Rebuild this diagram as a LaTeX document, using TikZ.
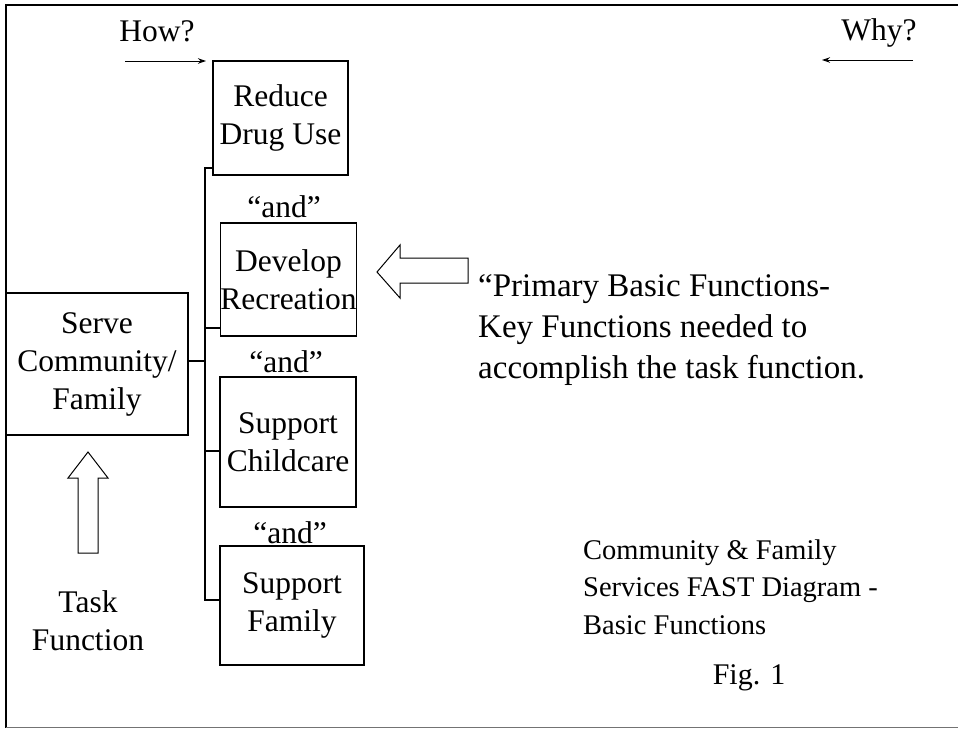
\documentclass[tikz,border=0pt]{standalone}
\usepackage{fontspec}
\setmainfont{Liberation Serif}
\usetikzlibrary{arrows.meta}
\begin{document}
\begin{tikzpicture}[x=1pt,y=-1pt,
  fnbox/.style={draw, line width=1.1pt, inner sep=0pt, align=center,
    font=\fontsize{31.5}{38}\selectfont},
  label/.style={inner sep=0pt, font=\fontsize{31.5}{38}\selectfont},
  note/.style={inner sep=0pt, align=left, anchor=west},
  bus/.style={line width=1.1pt},
  blockarrow/.style={draw, line width=1pt, fill=white, line join=miter},
  dirarrow/.style={line width=1pt, -{Stealth[length=8pt,width=5.5pt]}}]
\useasboundingbox (0,0) rectangle (958,728);

% frame
\draw[line width=2pt] (958,5) -- (6,5) -- (6,728);
\draw[line width=1pt, black!55] (6,727) -- (958,727);

% direction labels
\node[label, anchor=base] (how) at (157,41) {How?};
\node[label, anchor=base] (why) at (879,40) {Why?};
\coordinate (howA) at (125,61);
\coordinate (howB) at (206,61);
\coordinate (whyA) at (913,60);
\coordinate (whyB) at (822,60);
\draw[dirarrow] (howA) -- (howB);
\draw[dirarrow] (whyA) -- (whyB);

% task function
\node[fnbox, minimum width=182, minimum height=142] (serve) at (97,364)
  {Serve\\Community/\\Family};

% basic functions
\node[fnbox, minimum width=135, minimum height=114] (red) at (280.5,118)
  {Reduce\\Drug Use};
\node[fnbox, minimum width=135, minimum height=113] (dev) at (288.5,279.5)
  {Develop\\Recreation};
\node[fnbox, minimum width=136, minimum height=130] (chi) at (288,442)
  {Support\\Childcare};
\node[fnbox, minimum width=144, minimum height=119] (fam) at (292,605.5)
  {Support\\Family};

\node[label] (and1) at (284,207) {“and”};
\node[label] (and2) at (286,362) {“and”};
\node[label] (and3) at (290,533) {“and”};

% connecting bus
\coordinate (bustop) at (205,168);
\coordinate (busbot) at (205,600);
\draw[bus] (red.west |- bustop) -- (bustop) -- (busbot) -- (busbot -| fam.west);
\draw[bus] (205,328) -- (dev.west |- 0,328);
\draw[bus] (205,451) -- (chi.west |- 0,451);
\draw[bus] (serve.east |- 0,361) -- (205,361);

% block arrows
\draw[blockarrow] (88,452) -- (108,478) -- (98,478) -- (98,553)
  -- (78,553) -- (78,478) -- (68,478) -- cycle;
\draw[blockarrow] (377,272) -- (400,245) -- (400,258) -- (468,258)
  -- (468,283) -- (400,283) -- (400,298) -- cycle;

% notes
\node[label, align=center] (task) at (88,621) {Task\\Function};
\node[note, font=\fontsize{33}{41}\selectfont] (prim) at (478,330)
  {“Primary Basic Functions-\\Key Functions needed to\\accomplish the task function.};
\node[note, font=\fontsize{28.5}{37.5}\selectfont] (title) at (583,587)
  {Community \& Family\\Services FAST Diagram -\\Basic Functions};
\node[label, font=\fontsize{30}{35}\selectfont] (fig) at (749,678) {Fig. 1};
\end{tikzpicture}
\end{document}
